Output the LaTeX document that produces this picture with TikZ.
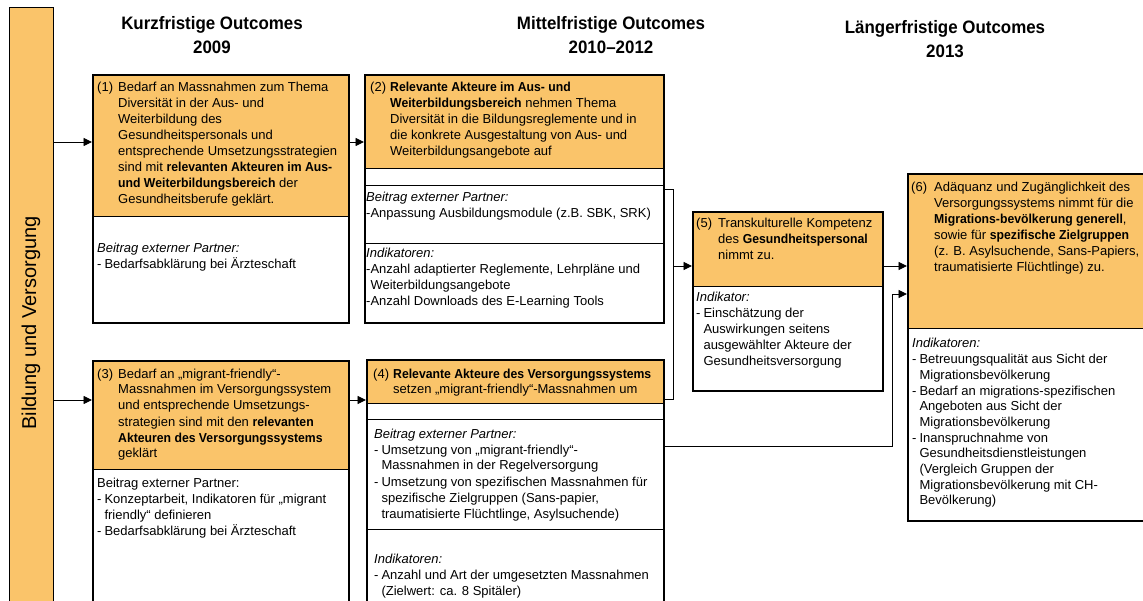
\documentclass[tikz,border=0pt]{standalone}
\usepackage{fontspec}
\setmainfont{Liberation Sans}[BoldFeatures={FakeStretch=0.94}]
\usetikzlibrary{arrows.meta}
\definecolor{boxorange}{RGB}{250,196,106}
\newcommand{\dsh}{-\kern3pt}
\tikzset{
  outerbox/.style={draw=black, line width=2.2pt, inner sep=0pt, anchor=north west},
  barbox/.style={draw=black, line width=0.9pt, fill=boxorange, inner sep=0pt, anchor=north west},
  divider/.style={draw=black, line width=0.9pt},
  conn/.style={draw=black, line width=0.9pt},
  arr/.style={conn, -{Triangle[length=8.5pt,width=8pt]}},
  txt/.style={inner sep=0pt, anchor=base west, font=\fontsize{13}{16}\selectfont},
  head/.style={inner sep=0pt, align=center, font=\fontsize{18}{23.5}\selectfont\bfseries},
}
\begin{document}
\begin{tikzpicture}[x=1pt,y=-1pt]
\useasboundingbox (0,0) rectangle (1143,601);

% left bar
\node[barbox, minimum width=44pt, minimum height=630pt] (bar) at (9,7) {};
\node[rotate=90, inner sep=0pt, font=\fontsize{20}{24}\selectfont] (bartext) at (31,323) {Bildung und Versorgung};

% headers
\node[head] (h1) at (212,35) {Kurzfristige Outcomes\\2009};
\node[head] (h2) at (611,35) {Mittelfristige Outcomes\\2010–2012};
\node[head] (h3) at (945,39) {Längerfristige Outcomes\\2013};

% box 1
\fill[boxorange] (92,74) rectangle (348,216);
\draw[divider] (92,216) -- (348,216);
\node[outerbox, minimum width=256pt, minimum height=248pt] (b1) at (92,74) {};

% box 2
\fill[boxorange] (364,74) rectangle (663,168);
\draw[divider] (364,168) -- (663,168);
\draw[divider] (364,185) -- (663,185);
\draw[divider] (364,243) -- (663,243);
\node[outerbox, minimum width=299pt, minimum height=248pt] (b2) at (364,74) {};

% box 3
\fill[boxorange] (92,360) rectangle (348,469);
\draw[divider] (92,469) -- (348,469);
\node[outerbox, minimum width=256pt, minimum height=270pt] (b3) at (92,360) {};

% box 4
\fill[boxorange] (366,359) rectangle (663,403);
\draw[divider] (366,403) -- (663,403);
\draw[divider] (366,419) -- (663,419);
\draw[divider] (366,529) -- (663,529);
\node[outerbox, minimum width=297pt, minimum height=270pt] (b4) at (366,359) {};

% box 5
\fill[boxorange] (692,211) rectangle (882,286);
\draw[divider] (692,286) -- (882,286);
\node[outerbox, minimum width=190pt, minimum height=179pt] (b5) at (692,211) {};

% box 6
\fill[boxorange] (907,173) rectangle (1170,328);
\draw[divider] (907,328) -- (1170,328);
\node[outerbox, minimum width=263pt, minimum height=347pt] (b6) at (907,173) {};

% connector rows
\coordinate (r1) at (0,142);
\coordinate (r3) at (0,400);
\coordinate (rb2) at (0,189);
\coordinate (rb4) at (0,399);
\coordinate (r5) at (0,266);
\coordinate (r4b) at (0,446);
\coordinate (r6b) at (0,294);
\coordinate (jt) at (673,189);
\coordinate (jb) at (673,399);
\coordinate (jm) at (673,266);
\coordinate (kb) at (892,446);
\coordinate (kt) at (892,294);

\draw[arr] (bar.east |- r1) -- (b1.west |- r1);
\draw[arr] (b1.east |- r1) -- (b2.west |- r1);
\draw[arr] (bar.east |- r3) -- (b3.west |- r3);
\draw[arr] (b3.east |- r3) -- (b4.west |- r3);
\draw[conn] (b2.east |- rb2) -- (jt) -- (jb) -- (b4.east |- rb4);
\draw[arr] (jm) -- (b5.west |- r5);
\draw[arr] (b5.east |- r5) -- (b6.west |- r5);
\draw[conn] (b4.east |- r4b) -- (kb) -- (kt);
\draw[arr] (kt) -- (b6.west |- r6b);

% texts box 1
\node[txt] (t1a) at (97,92) {\begin{tabular}[t]{@{}p{21pt}@{}l@{}}
(1) & Bedarf an Massnahmen zum Thema\\
 & Diversität in der Aus- und\\
 & Weiterbildung des\\
 & Gesundheitspersonals und\\
 & entsprechende Umsetzungsstrategien\\
 & sind mit \textbf{relevanten Akteuren im Aus-}\\
 & \textbf{und Weiterbildungsbereich} der\\
 & Gesundheitsberufe geklärt.
\end{tabular}};
\node[txt] (t1b) at (97,253) {\begin{tabular}[t]{@{}l@{}l@{}}
\multicolumn{2}{@{}l@{}}{\textit{Beitrag externer Partner:}}\\
\dsh & Bedarfsabklärung bei Ärzteschaft
\end{tabular}};

% texts box 2
\node[txt] (t2a) at (370,92) {\begin{tabular}[t]{@{}p{20pt}@{}l@{}}
(2) & \textbf{Relevante Akteure im Aus- und}\\
 & \textbf{Weiterbildungsbereich} nehmen Thema\\
 & Diversität in die Bildungsreglemente und in\\
 & die konkrete Ausgestaltung von Aus- und\\
 & Weiterbildungsangebote auf
\end{tabular}};
\node[txt] (t2b) at (366,202) {\begin{tabular}[t]{@{}l@{}l@{}}
\multicolumn{2}{@{}l@{}}{\textit{Beitrag externer Partner:}}\\
- & Anpassung Ausbildungsmodule (z.B. SBK, SRK)
\end{tabular}};
\node[txt] (t2c) at (366,258) {\begin{tabular}[t]{@{}l@{}l@{}}
\multicolumn{2}{@{}l@{}}{\textit{Indikatoren:}}\\
- & Anzahl adaptierter Reglemente, Lehrpläne und\\
 & Weiterbildungsangebote\\
- & Anzahl Downloads des E-Learning Tools
\end{tabular}};

% texts box 3
\node[txt] (t3a) at (97,378) {\begin{tabular}[t]{@{}p{21pt}@{}l@{}}
(3) & Bedarf an „migrant-friendly“-\\
 & Massnahmen im Versorgungssystem\\
 & und entsprechende Umsetzungs-\\
 & strategien sind mit den \textbf{relevanten}\\
 & \textbf{Akteuren des Versorgungssystems}\\
 & geklärt
\end{tabular}};
\node[txt] (t3b) at (97,487) {\begin{tabular}[t]{@{}l@{}l@{}}
\multicolumn{2}{@{}l@{}}{Beitrag externer Partner:}\\
\dsh & Konzeptarbeit, Indikatoren für „migrant\\
 & friendly“ definieren\\
\dsh & Bedarfsabklärung bei Ärzteschaft
\end{tabular}};

% texts box 4
\node[txt] (t4a) at (373,378) {\begin{tabular}[t]{@{}p{20pt}@{}l@{}}
(4) & \textbf{Relevante Akteure des Versorgungssystems}\\
 & setzen „migrant-friendly“-Massnahmen um
\end{tabular}};
\node[txt] (t4b) at (374,438) {\begin{tabular}[t]{@{}l@{}l@{}}
\multicolumn{2}{@{}l@{}}{\textit{Beitrag externer Partner:}}\\
\dsh & Umsetzung von „migrant-friendly“-\\
 & Massnahmen in der Regelversorgung\\
\dsh & Umsetzung von spezifischen Massnahmen für\\
 & spezifische Zielgruppen (Sans-papier,\\
 & traumatisierte Flüchtlinge, Asylsuchende)
\end{tabular}};
\node[txt] (t4c) at (374,563) {\begin{tabular}[t]{@{}l@{}l@{}}
\multicolumn{2}{@{}l@{}}{\textit{Indikatoren:}}\\
\dsh & Anzahl und Art der umgesetzten Massnahmen\\
 & (Zielwert: ca. 8 Spitäler)
\end{tabular}};

% texts box 5
\node[txt] (t5a) at (696,228) {\begin{tabular}[t]{@{}p{22pt}@{}l@{}}
(5) & Transkulturelle Kompetenz\\
 & des \textbf{Gesundheitspersonal}\\
 & nimmt zu.
\end{tabular}};
\node[txt] (t5b) at (696,302) {\begin{tabular}[t]{@{}l@{}l@{}}
\multicolumn{2}{@{}l@{}}{\textit{Indikator:}}\\
\dsh & Einschätzung der\\
 & Auswirkungen seitens\\
 & ausgewählter Akteure der\\
 & Gesundheitsversorgung
\end{tabular}};

% texts box 6
\node[txt] (t6a) at (911,192) {\begin{tabular}[t]{@{}p{23pt}@{}l@{}}
(6) & Adäquanz und Zugänglichkeit des\\
 & Versorgungssystems nimmt für die\\
 & \textbf{Migrations-bevölkerung generell},\\
 & sowie für \textbf{spezifische Zielgruppen}\\
 & (z. B. Asylsuchende, Sans-Papiers,\\
 & traumatisierte Flüchtlinge) zu.
\end{tabular}};
\node[txt, font=\fontsize{13}{15.7}\selectfont] (t6b) at (912,348) {\begin{tabular}[t]{@{}l@{}l@{}}
\multicolumn{2}{@{}l@{}}{\textit{Indikatoren:}}\\
\dsh & Betreuungsqualität aus Sicht der\\
 & Migrationsbevölkerung\\
\dsh & Bedarf an migrations-spezifischen\\
 & Angeboten aus Sicht der\\
 & Migrationsbevölkerung\\
\dsh & Inanspruchnahme von\\
 & Gesundheitsdienstleistungen\\
 & (Vergleich Gruppen der\\
 & Migrationsbevölkerung mit CH-\\
 & Bevölkerung)
\end{tabular}};
\end{tikzpicture}
\end{document}
